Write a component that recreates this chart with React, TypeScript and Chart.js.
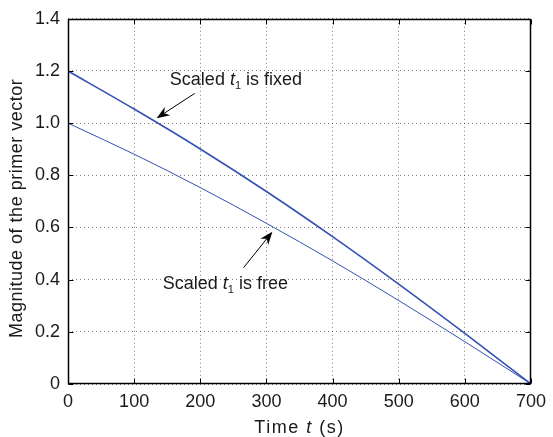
import React, { useEffect, useRef } from "react";
import { Chart, registerables } from "chart.js";

Chart.register(...registerables);

const FONT = '"Liberation Sans", Arial, Helvetica, sans-serif';
const TEXT = "#1a1a1a";
const BLUE = "#3352b2";

// Time samples (s) and primer-vector magnitude for both cases
const timeS = [0, 100, 200, 300, 400, 500, 600, 700];
const magFixed = [1.2, 1.054, 0.901, 0.738, 0.565, 0.383, 0.194, 0];
const magFree = [1.0, 0.881, 0.753, 0.616, 0.472, 0.32, 0.162, 0];

const xTickValues = [0, 100, 200, 300, 400, 500, 600, 700];
const yTickValues = [0, 0.2, 0.4, 0.6, 0.8, 1.0, 1.2, 1.4];
const yTickLabels = ["0", "0.2", "0.4", "0.6", "0.8", "1.0", "1.2", "1.4"];

type Piece = { s: string; italic?: boolean; sub?: boolean };

const fixedLabel: Piece[] = [
  { s: "Scaled " },
  { s: "t", italic: true },
  { s: "1", sub: true },
  { s: " is fixed" },
];
const freeLabel: Piece[] = [
  { s: "Scaled " },
  { s: "t", italic: true },
  { s: "1", sub: true },
  { s: " is free" },
];
const xTitle: Piece[] = [{ s: "Time " }, { s: "t", italic: true }, { s: " (s)" }];
const yTitle = "Magnitude of the primer vector";

// Callouts, anchored in data coordinates (time, magnitude)
const callouts = [
  { label: fixedLabel, at: [154, 1.148], tail: [191.6, 1.114], tip: [134, 1.019] },
  { label: freeLabel, at: [143.3, 0.366], tail: [265.5, 0.446], tip: [309, 0.584] },
];

function drawPieces(ctx: CanvasRenderingContext2D, pieces: Piece[], x: number, y: number, size: number, spacing = 0) {
  let cx = x;
  for (const p of pieces) {
    const fs = p.sub ? Math.round(size * 0.6) : size;
    ctx.font = `${p.italic ? "italic " : ""}${fs}px ${FONT}`;
    (ctx as any).letterSpacing = `${spacing}px`;
    ctx.fillText(p.s, cx, p.sub ? y + 4 : y);
    cx += ctx.measureText(p.s).width;
  }
  (ctx as any).letterSpacing = "0px";
}

function measurePieces(ctx: CanvasRenderingContext2D, pieces: Piece[], size: number, spacing = 0) {
  let w = 0;
  for (const p of pieces) {
    const fs = p.sub ? Math.round(size * 0.6) : size;
    ctx.font = `${p.italic ? "italic " : ""}${fs}px ${FONT}`;
    (ctx as any).letterSpacing = `${spacing}px`;
    w += ctx.measureText(p.s).width;
  }
  (ctx as any).letterSpacing = "0px";
  return w;
}

function drawArrow(ctx: CanvasRenderingContext2D, x0: number, y0: number, x1: number, y1: number) {
  const ang = Math.atan2(y1 - y0, x1 - x0);
  const len = 13;
  const half = 5;
  const notch = 9;
  const ux = Math.cos(ang);
  const uy = Math.sin(ang);
  const bx = x1 - ux * len;
  const by = y1 - uy * len;
  ctx.strokeStyle = "#000";
  ctx.lineWidth = 1;
  ctx.beginPath();
  ctx.moveTo(x0, y0);
  ctx.lineTo(x1 - ux * notch, y1 - uy * notch);
  ctx.stroke();
  ctx.fillStyle = "#000";
  ctx.beginPath();
  ctx.moveTo(x1, y1);
  ctx.lineTo(bx - uy * half, by + ux * half);
  ctx.lineTo(x1 - ux * notch, y1 - uy * notch);
  ctx.lineTo(bx + uy * half, by - ux * half);
  ctx.closePath();
  ctx.fill();
}

const framePlugin = {
  id: "frame",
  afterDraw(chart: Chart) {
    const { ctx, chartArea } = chart;
    const xs = chart.scales.x;
    const ys = chart.scales.y;
    const L = Math.round(chartArea.left) + 0.5;
    const R = Math.round(chartArea.right) - 0.5;
    const T = Math.round(chartArea.top) + 0.5;
    const B = Math.round(chartArea.bottom) - 0.5;
    ctx.save();

    // inward tick marks on all four sides
    ctx.strokeStyle = "#000";
    ctx.lineWidth = 1;
    ctx.beginPath();
    const tl = 5;
    for (const v of xTickValues) {
      const px = Math.round(xs.getPixelForValue(v)) + 0.5;
      ctx.moveTo(px, B);
      ctx.lineTo(px, B - tl);
      ctx.moveTo(px, T);
      ctx.lineTo(px, T + tl);
    }
    for (const v of yTickValues) {
      const py = Math.round(ys.getPixelForValue(v)) + 0.5;
      ctx.moveTo(L, py);
      ctx.lineTo(L + tl, py);
      ctx.moveTo(R, py);
      ctx.lineTo(R - tl, py);
    }
    ctx.stroke();

    // axes box
    ctx.lineWidth = 1.5;
    ctx.strokeRect(L, T, R - L, B - T);

    // callouts
    ctx.textAlign = "left";
    ctx.textBaseline = "alphabetic";
    for (const c of callouts) {
      ctx.fillStyle = TEXT;
      drawPieces(ctx, c.label, xs.getPixelForValue(c.at[0]), ys.getPixelForValue(c.at[1]), 18);
      drawArrow(
        ctx,
        xs.getPixelForValue(c.tail[0]),
        ys.getPixelForValue(c.tail[1]),
        xs.getPixelForValue(c.tip[0]),
        ys.getPixelForValue(c.tip[1])
      );
    }

    // axis titles
    ctx.fillStyle = TEXT;
    const cx = (chartArea.left + chartArea.right) / 2;
    const w = measurePieces(ctx, xTitle, 18, 1.5);
    drawPieces(ctx, xTitle, cx - w / 2, 433, 18, 1.5);

    const cy = (chartArea.top + chartArea.bottom) / 2 + 7;
    ctx.translate(22, cy);
    ctx.rotate(-Math.PI / 2);
    ctx.font = `18px ${FONT}`;
    (ctx as any).letterSpacing = "0.5px";
    ctx.textAlign = "center";
    ctx.fillText(yTitle, 0, 0);
    (ctx as any).letterSpacing = "0px";
    ctx.restore();
  },
};

export default function App() {
  const canvasRef = useRef<HTMLCanvasElement | null>(null);

  useEffect(() => {
    const canvas = canvasRef.current;
    if (!canvas) return;
    const chart = new Chart(canvas, {
      type: "line",
      data: {
        datasets: [
          {
            label: "Scaled t1 is fixed",
            data: timeS.map((t, i) => ({ x: t, y: magFixed[i] })),
            borderColor: BLUE,
            borderWidth: 1.6,
            pointRadius: 0,
            cubicInterpolationMode: "monotone",
          },
          {
            label: "Scaled t1 is free",
            data: timeS.map((t, i) => ({ x: t, y: magFree[i] })),
            borderColor: BLUE,
            borderWidth: 1,
            pointRadius: 0,
            cubicInterpolationMode: "monotone",
          },
        ],
      },
      options: {
        animation: false,
        responsive: false,
        events: [],
        layout: { padding: { top: 17, right: 21, left: 0, bottom: 0 } },
        plugins: { legend: { display: false }, tooltip: { enabled: false } },
        scales: {
          x: {
            type: "linear",
            min: 0,
            max: 700,
            afterBuildTicks: (s: any) => {
              s.ticks = xTickValues.map((v) => ({ value: v }));
            },
            afterFit: (s: any) => {
              s.height = 53;
            },
            grid: { color: "rgba(0,0,0,0.5)", lineWidth: 1, drawTicks: false },
            border: { display: false, dash: [1, 3] },
            ticks: {
              padding: 7,
              color: TEXT,
              font: { family: FONT, size: 18 },
              maxRotation: 0,
              autoSkip: false,
            },
          },
          y: {
            type: "linear",
            min: 0,
            max: 1.4,
            afterBuildTicks: (s: any) => {
              s.ticks = yTickValues.map((v) => ({ value: v }));
            },
            afterFit: (s: any) => {
              s.width = 68;
            },
            grid: { color: "rgba(0,0,0,0.5)", lineWidth: 1, drawTicks: false },
            border: { display: false, dash: [1, 3] },
            ticks: {
              padding: 8,
              color: TEXT,
              font: { family: FONT, size: 18 },
              autoSkip: false,
              callback: (_v: any, i: number) => yTickLabels[i],
            },
          },
        },
      },
      plugins: [framePlugin],
    });
    return () => chart.destroy();
  }, []);

  return (
    <div style={{ position: "absolute", left: 0, top: 0, width: 553, height: 437, background: "#fff" }}>
      <canvas ref={canvasRef} width={553} height={437} />
    </div>
  );
}
